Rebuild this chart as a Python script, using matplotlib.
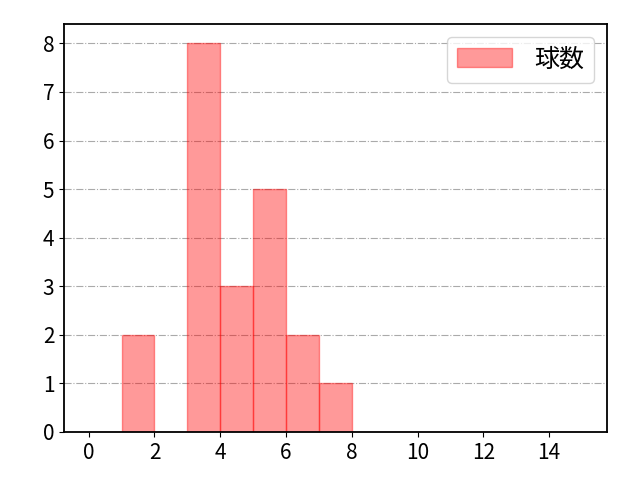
import matplotlib
matplotlib.use("Agg")
import matplotlib.pyplot as plt
import numpy as np

plt.rcParams['font.family'] = ['Noto Sans CJK JP', 'DejaVu Sans']

# 球数 histogram: bin left edges and counts
bin_edges = list(range(0, 16))
bin_left = [1, 3, 4, 5, 6, 7]
counts = [2, 8, 3, 5, 2, 1]
label = "球数"

fig, ax = plt.subplots(figsize=(6.4, 4.8), dpi=100)

ax.hist(np.array(bin_left) + 0.5, bins=bin_edges, weights=counts,
        color="red", alpha=0.4, edgecolor="red", label=label)

ax.set_xticks(range(0, 15, 2))
ax.set_yticks(range(0, 9))
ax.grid(axis="y", linestyle="-.", color="#aaaaaa")
ax.set_axisbelow(True)
ax.legend(loc="upper right", fontsize=18, handlelength=2.2,
          handleheight=0.8, handletextpad=0.9)
ax.tick_params(labelsize=15)
for s in ax.spines.values():
    s.set_linewidth(1.3)

fig.subplots_adjust(left=0.1, right=0.948, top=0.95, bottom=0.1)
fig.savefig("out.png")
